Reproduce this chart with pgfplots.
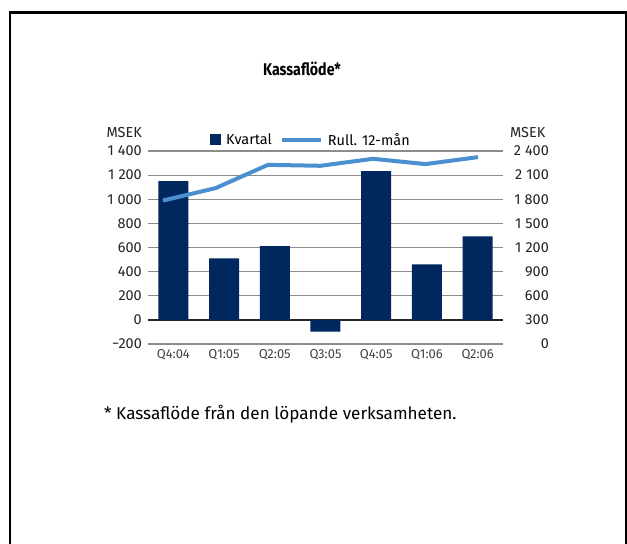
\documentclass[border=0pt]{standalone}
\usepackage{fontspec}
\setmainfont{Fira Sans}
\usepackage{pgfplots}
\pgfplotsset{compat=1.18}
\definecolor{barcol}{HTML}{00285E}
\definecolor{linecol}{HTML}{4A8FD0}
\definecolor{gridcol}{HTML}{8C8C8C}
\definecolor{txtcol}{HTML}{222222}
\newcommand{\ts}{\hspace{0.28em}}
\begin{document}
\begin{tikzpicture}
\useasboundingbox (0bp,0bp) rectangle (627bp,544bp);
\draw[line width=2.5bp, black] (10bp,0bp) -- (10bp,531.5bp) -- (625.8bp,531.5bp) -- (625.8bp,0bp);
\node[font=\bfseries\fontsize{17}{19}\selectfont] at (302bp,475bp) {\scalebox{0.84}[1]{Kassaflöde*}};
\node[anchor=base west, font=\fontsize{17.2}{20}\selectfont, inner sep=0pt] at (104bp,124bp) {* Kassaflöde från den löpande verksamheten.};
\node[anchor=east, inner sep=0pt, font=\fontsize{14.5}{16}\selectfont, text=txtcol] at (142bp,411bp) {MSEK};
\node[anchor=west, inner sep=0pt, font=\fontsize{14.5}{16}\selectfont, text=txtcol] at (510bp,411bp) {MSEK};
\begin{axis}[
  at={(148bp,200bp)}, anchor=south west, scale only axis,
  width=355bp, height=193bp,
  xmin=-0.5, xmax=6.5, ymin=-200, ymax=1400,
  axis line style={draw=none},
  major tick length=0pt,
  ytick={-200,0,200,400,600,800,1000,1200,1400},
  yticklabels={−200,0,200,400,600,800,1\ts000,1\ts200,1\ts400},
  xtick={0,...,6},
  xticklabels={Q4:04,Q1:05,Q2:05,Q3:05,Q4:05,Q1:06,Q2:06},
  ymajorgrids, grid style={gridcol, line width=1.2bp},
  extra y ticks={0}, extra y tick labels={},
  extra y tick style={grid style={black!85, line width=1.8bp}},
  yticklabel style={font=\fontsize{14.5}{16}\selectfont, text=txtcol, anchor=east, inner sep=0pt, xshift=-6bp},
  xticklabel style={font=\fontsize{13}{15}\selectfont, text=txtcol!85, anchor=north, inner sep=0pt, yshift=-5bp},
  legend style={at={(0.459,1.057)}, anchor=center, draw=none, fill=none,
    font=\fontsize{14.5}{16}\selectfont, legend columns=2,
    /tikz/every odd column/.append style={column sep=3bp},
    /tikz/every even column/.append style={column sep=6bp}},
]
\addplot[ybar, bar width=30bp, bar shift=0pt, fill=barcol, draw=none,
  legend image code/.code={\fill[barcol] (0bp,-5.5bp) rectangle (11bp,5.5bp);}]
  coordinates {(0,1150) (1,510) (2,612) (3,-97) (4,1233) (5,461) (6,692)};
\addlegendentry{Kvartal}
\addlegendimage{legend image code/.code={\draw[linecol, line width=4bp] (0bp,0bp) -- (39bp,0bp);}}
\addlegendentry{Rull. 12-mån}
\end{axis}
\begin{axis}[
  at={(148bp,200bp)}, anchor=south west, scale only axis,
  width=355bp, height=193bp,
  xmin=-0.2857, xmax=6.476, ymin=0, ymax=2400,
  axis y line*=right, hide x axis,
  axis line style={draw=none},
  major tick length=0pt,
  ytick={0,300,600,900,1200,1500,1800,2100,2400},
  yticklabels={0,300,600,900,1\ts200,1\ts500,1\ts800,2\ts100,2\ts400},
  yticklabel style={font=\fontsize{14.5}{16}\selectfont, text=txtcol, anchor=east, inner sep=0pt, xshift=46bp},
]
\addplot[linecol, line width=4bp, line join=round, mark=none]
  coordinates {(0,1784) (1,1938) (2,2228) (3,2216) (4,2303) (5,2237) (6,2324)};
\end{axis}
\end{tikzpicture}
\end{document}
